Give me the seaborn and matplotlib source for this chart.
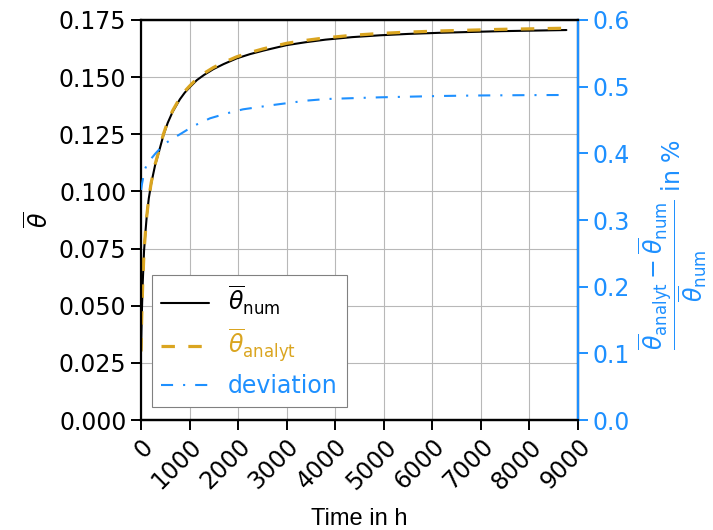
import matplotlib
matplotlib.use("Agg")
import matplotlib.pyplot as plt
import seaborn as sns
import pandas as pd

# Mean temperature ratio over one year: numerical vs analytical solution
time_h = [0, 14, 35, 62, 90, 117, 160, 210, 290, 377, 460, 550, 650, 800,
          900, 1000, 1150, 1300, 1490, 1700, 1970, 2250, 2520, 3000, 3400,
          3800, 4350, 4920, 5500, 6160, 7400, 8760]
theta_num = [0.030, 0.045, 0.060, 0.074, 0.082, 0.089, 0.097, 0.1035,
             0.1115, 0.1180, 0.1245, 0.1300, 0.1348, 0.1403, 0.1432, 0.1455,
             0.1487, 0.1510, 0.1535, 0.1557, 0.1582, 0.1601, 0.1616, 0.1640,
             0.1653, 0.1664, 0.1675, 0.1683, 0.1689, 0.1694, 0.1701, 0.1706]
theta_analyt = [0.030, 0.045, 0.060, 0.074, 0.082, 0.089, 0.097, 0.1039,
                0.1119, 0.1184, 0.1250, 0.1305, 0.1353, 0.1409, 0.1438, 0.1461,
                0.1493, 0.1517, 0.1542, 0.1564, 0.1589, 0.1608, 0.1624, 0.1648,
                0.1661, 0.1672, 0.1683, 0.1691, 0.1697, 0.1702, 0.1709, 0.1714]

# Relative deviation in percent
dev_time_h = [0, 15, 35, 68, 120, 185, 300, 460, 620, 800, 1080, 1420, 1770,
              2100, 2720, 3400, 3820, 4920, 6160, 7000, 8000, 8760]
deviation = [0.345, 0.352, 0.360, 0.374, 0.383, 0.390, 0.400, 0.4125, 0.421,
             0.4285, 0.441, 0.4525, 0.460, 0.466, 0.4725, 0.479, 0.4815,
             0.484, 0.486, 0.4868, 0.4873, 0.4875]

x_ticks = [0, 1000, 2000, 3000, 4000, 5000, 6000, 7000, 8000, 9000]
left_ticks = [0.0, 0.025, 0.05, 0.075, 0.1, 0.125, 0.15, 0.175]
right_ticks = [0.0, 0.1, 0.2, 0.3, 0.4, 0.5, 0.6]

sns.set_style("white")
plt.rcParams["font.family"] = ["DejaVu Sans"]
plt.rcParams["mathtext.fontset"] = "dejavusans"
for key in ("text.color", "axes.labelcolor", "xtick.color", "ytick.color"):
    plt.rcParams[key] = "black"

FS = 17
BLUE = "#1E90FF"
GOLD = "#DAA520"

df = pd.DataFrame({"t": time_h, "num": theta_num, "analyt": theta_analyt})
dfd = pd.DataFrame({"t": dev_time_h, "dev": deviation})

fig = plt.figure(figsize=(7.13, 5.30), dpi=100)
ax = fig.add_axes([0.1978, 0.2075, 0.6129, 0.7548])
ax2 = ax.twinx()

sns.lineplot(data=df, x="t", y="num", ax=ax, color="black", lw=1.5,
             label=r"$\overline{\theta}_\mathrm{num}$", legend=False)
sns.lineplot(data=df, x="t", y="analyt", ax=ax, color=GOLD, lw=2.3,
             linestyle=(0, (4.2, 4.2)),
             label=r"$\overline{\theta}_\mathrm{analyt}$", legend=False)
sns.lineplot(data=dfd, x="t", y="dev", ax=ax2, color=BLUE, lw=1.5,
             linestyle=(0, (5.8, 4.8, 1, 4.8)), label="deviation",
             legend=False)

ax.set_xlim(0, 9000)
ax.set_ylim(0, 0.175)
ax2.set_ylim(0, 0.6)
ax.set_xticks(x_ticks)
ax.set_yticks(left_ticks)
ax.set_yticklabels([f"{v:.3f}" for v in left_ticks])
ax2.set_yticks(right_ticks)
ax2.set_yticklabels([f"{v:.1f}" for v in right_ticks])

ax.grid(True, color="#b8b8b8", lw=0.8)
ax.set_axisbelow(True)

for s in ax.spines.values():
    s.set_linewidth(1.6)
    s.set_color("black")
for name, s in ax2.spines.items():
    s.set_linewidth(1.6)
    s.set_color(BLUE if name == "right" else "black")
ax2.spines["left"].set_visible(False)

ax.tick_params(axis="both", which="major", labelsize=FS, length=7, width=1.4,
               direction="out", color="black", left=True, bottom=True)
ax.tick_params(axis="x", labelrotation=45)
for lbl in ax.get_xticklabels():
    lbl.set_ha("right")
    lbl.set_rotation_mode("anchor")
ax2.tick_params(axis="y", labelsize=FS, length=7, width=1.4, colors=BLUE,
                right=True)

ax.set_xlabel("Time in h", fontsize=FS, family="Liberation Sans", labelpad=10)
ax.set_ylabel(r"$\overline{\theta}$", fontsize=FS)
ax2.set_ylabel(r"$\dfrac{\overline{\theta}_\mathrm{analyt} - \overline{\theta}_\mathrm{num}}"
               r"{\overline{\theta}_\mathrm{num}}$ in %", fontsize=FS, color=BLUE,
               y=0.44)

h1, l1 = ax.get_legend_handles_labels()
h2, l2 = ax2.get_legend_handles_labels()
leg = ax2.legend(h1 + h2, l1 + l2, loc="lower left", fontsize=FS,
                 fancybox=False, framealpha=1.0, edgecolor="#808080",
                 labelcolor="linecolor", bbox_to_anchor=(0.025, 0.032),
                 borderaxespad=0, labelspacing=0.4)
leg.get_frame().set_linewidth(0.8)

fig.savefig("out.png", dpi=100)
